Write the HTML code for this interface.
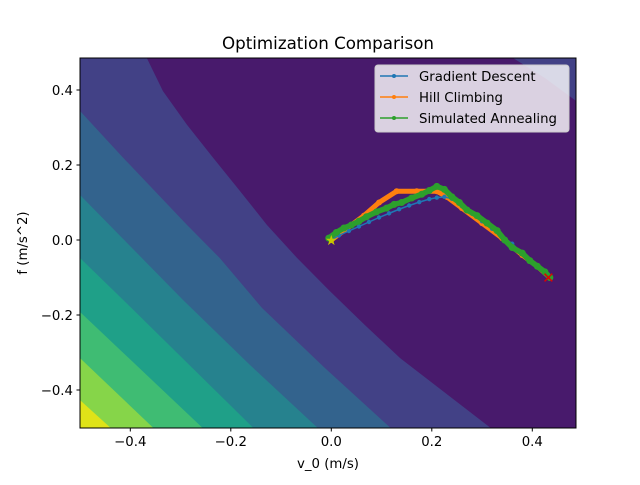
<!DOCTYPE html>
<html><head><meta charset="utf-8"><style>
body{margin:0;background:#fff}
svg text{font-family:"DejaVu Sans","Liberation Sans",sans-serif;fill:#000}
</style></head><body>
<svg id="chart" width="640" height="480" xmlns="http://www.w3.org/2000/svg">
<defs><clipPath id="clip"><rect x="80" y="58" width="496" height="370"/></clipPath></defs>
<text x="328" y="49" font-size="16.7" text-anchor="middle">Optimization Comparison</text>
<g id="contours" clip-path="url(#clip)"></g>
<g id="series" clip-path="url(#clip)"></g>
<rect x="80" y="58" width="496" height="370" fill="none" stroke="#000" stroke-width="1"/>
<g id="axes"></g>
<text x="328" y="468" font-size="13.3" text-anchor="middle">v_0 (m/s)</text>
<text x="27" y="243" font-size="13.3" text-anchor="middle" transform="rotate(-90 27 243)">f (m/s^2)</text>
<g>
<rect x="375" y="65" width="194" height="67" rx="3" fill="#fff" fill-opacity="0.8" stroke="#ccc"/>
<g><line x1="380" y1="76" x2="408" y2="76" stroke="#1f77b4" stroke-width="1.5"/><circle cx="394" cy="76" r="2" fill="#1f77b4"/><text x="419" y="81" font-size="13.3">Gradient Descent</text></g>
<g><line x1="380" y1="97" x2="408" y2="97" stroke="#ff7f0e" stroke-width="1.5"/><circle cx="394" cy="97" r="2" fill="#ff7f0e"/><text x="419" y="102" font-size="13.3">Hill Climbing</text></g>
<g><line x1="380" y1="118" x2="408" y2="118" stroke="#2ca02c" stroke-width="1.5"/><circle cx="394" cy="118" r="2" fill="#2ca02c"/><text x="419" y="123" font-size="13.3">Simulated Annealing</text></g>
</g>
</svg>
<script>
const xTicks=[-0.4,-0.2,0.0,0.2,0.4];
const yTicks=[-0.4,-0.2,0.0,0.2,0.4];
const gdX=[0,0.015,0.035,0.055,0.075,0.095,0.115,0.135,0.155,0.175,0.195,0.21,0.225,0.24,0.26,0.28,0.30,0.32,0.34,0.36,0.38,0.40,0.42,0.435];
const gdY=[0,0.012,0.024,0.036,0.048,0.06,0.071,0.082,0.092,0.101,0.109,0.113,0.115,0.11,0.09,0.07,0.05,0.03,0.01,-0.01,-0.035,-0.06,-0.08,-0.1];
const hcX=[0,0.03,0.065,0.095,0.13,0.17,0.21,0.23,0.26,0.30,0.34,0.38,0.41,0.435];
const hcY=[0,0.03,0.065,0.1,0.13,0.13,0.13,0.115,0.085,0.045,0.005,-0.04,-0.07,-0.1];
const saX=[-0.005,0.01,0.025,0.04,0.055,0.07,0.09,0.11,0.125,0.14,0.16,0.18,0.195,0.21,0.225,0.24,0.255,0.27,0.29,0.31,0.33,0.345,0.36,0.38,0.395,0.41,0.425,0.435];
const saY=[0.005,0.02,0.032,0.04,0.05,0.062,0.075,0.085,0.095,0.1,0.112,0.122,0.132,0.143,0.135,0.115,0.1,0.08,0.065,0.045,0.025,0.0,-0.02,-0.035,-0.055,-0.07,-0.085,-0.1];
const contourColors=['#424186','#33638d','#26828e','#1fa088','#3fbc73','#86d549','#dfe318'];
const contourBounds=[
 [[-0.367,0.485],[-0.335,0.397],[-0.287,0.307],[-0.235,0.219],[-0.182,0.131],[-0.128,0.04],[-0.068,-0.048],[-0.003,-0.136],[0.067,-0.227],[0.137,-0.315],[0.316,-0.5]],
 [[-0.5,0.344],[-0.414,0.219],[-0.287,0.04],[-0.222,-0.048],[-0.138,-0.181],[-0.013,-0.341],[0.117,-0.5]],
 [[-0.5,0.12],[-0.295,-0.16],[-0.162,-0.333],[-0.028,-0.5]],
 [[-0.5,-0.048],[-0.414,-0.16],[-0.156,-0.5]],
 [[-0.5,-0.192],[-0.257,-0.5]],
 [[-0.5,-0.315],[-0.355,-0.5]],
 [[-0.5,-0.427],[-0.44,-0.5]]
];
const cornerBound=[[0.362,0.485],[0.425,0.432],[0.487,0.371]];
const NS='http://www.w3.org/2000/svg';
const sx=v=>331.3+v*502.5, sy=v=>240-v*375;
function mk(tag,attrs,parent){const e=document.createElementNS(NS,tag);for(const k in attrs)e.setAttribute(k,attrs[k]);parent.appendChild(e);return e;}
const cg=document.getElementById('contours');
let bg=mk('rect',{x:80,y:58,width:496,height:370,fill:'#481a6c'},cg);


contourBounds.forEach((b,i)=>{
 const pts=b.map(p=>sx(p[0])+','+sy(p[1]));
 pts.push(sx(-0.5)+','+sy(-0.5));
 if(i===0)pts.push(sx(-0.5)+','+sy(0.485));
 const p=mk('polygon',{points:pts.join(' '),fill:contourColors[i]},cg);
 
 
});
{const pts=cornerBound.map(p=>sx(p[0])+','+sy(p[1]));pts.push(sx(0.487)+','+sy(0.485));
 const p=mk('polygon',{points:pts.join(' '),fill:contourColors[0]},cg);
 
 }
const sg=document.getElementById('series');
function series(xs,ys,color,w,r,name){
 const g=mk('g',{},sg);
 
 
 mk('polyline',{points:xs.map((x,i)=>sx(x)+','+sy(ys[i])).join(' '),fill:'none',stroke:color,'stroke-width':w,'stroke-linejoin':'round'},g);
 xs.forEach((x,i)=>{const c=mk('circle',{cx:sx(x),cy:sy(ys[i]),r:r,fill:color},g);
  
  });
}
series(hcX,hcY,'#ff7f0e',5,3,'hill-climbing-line');
series(gdX,gdY,'#1f77b4',1.5,2.2,'gradient-descent-line');
series(saX,saY,'#2ca02c',5.5,3.5,'simulated-annealing-line');
let st=mk('text',{x:sx(0),y:sy(0)+5,'font-size':14,'text-anchor':'middle',style:'fill:#c8c800'},sg);
st.textContent='★';


let en=mk('text',{x:sx(0.432),y:sy(-0.101)+5,'font-size':15,'text-anchor':'middle',style:'fill:#e00000'},sg);
en.textContent='✕';


const ag=document.getElementById('axes');
xTicks.forEach(t=>{const x=sx(t);
 const l=mk('line',{x1:x,y1:428,x2:x,y2:431.5,stroke:'#000'},ag);
 
 
 const tx=mk('text',{x:x,y:446,'font-size':13.3,'text-anchor':'middle'},ag);
 tx.textContent=(t<0?'\u2212':'')+Math.abs(t).toFixed(1);
 
 });
yTicks.forEach(t=>{const y=sy(t);
 const l=mk('line',{x1:76.5,y1:y,x2:80,y2:y,stroke:'#000'},ag);
 
 
 const tx=mk('text',{x:73,y:y+5,'font-size':13.3,'text-anchor':'end'},ag);
 tx.textContent=(t<0?'\u2212':'')+Math.abs(t).toFixed(1);
 
 });
</script>
</body></html>
